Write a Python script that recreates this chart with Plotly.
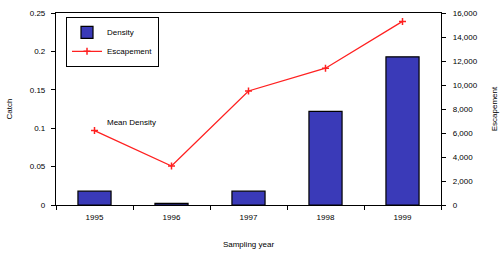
import plotly.graph_objects as go

years = ["1995", "1996", "1997", "1998", "1999"]
density = [0.018, 0.002, 0.018, 0.122, 0.193]
escapement = [6200, 3250, 9500, 11400, 15300]

left_ticks = [0, 0.05, 0.1, 0.15, 0.2, 0.25]
left_labels = ["0", "0.05", "0.1", "0.15", "0.2", "0.25"]
right_ticks = [0, 2000, 4000, 6000, 8000, 10000, 12000, 14000, 16000]
right_labels = ["0", "2,000", "4,000", "6,000", "8,000", "10,000", "12,000", "14,000", "16,000"]

fig = go.Figure()
fig.add_trace(go.Bar(x=years, y=density, name="Density", width=0.43,
                     marker=dict(color="#3a3ab8", line=dict(color="black", width=1.2))))
fig.add_trace(go.Scatter(x=years, y=escapement, name="Escapement", yaxis="y2",
                         mode="lines+markers", line=dict(color="#ff2020", width=1.3),
                         marker=dict(symbol="cross-thin", size=5, line=dict(color="#ff2020", width=1.5))))

axis_font = dict(family="Liberation Sans, Arial", size=8, color="black")
fig.update_layout(
    width=503, height=253,
    margin=dict(l=56, r=62, t=13, b=48, autoexpand=False),
    plot_bgcolor="white", paper_bgcolor="white",
    font=axis_font,
    showlegend=True,
    legend=dict(x=0.026, y=0.98, xanchor="left", yanchor="top",
                bordercolor="black", borderwidth=1, bgcolor="white",
                font=dict(size=8), itemwidth=30, tracegroupgap=0),
    xaxis=dict(type="category", showline=True, linecolor="black", linewidth=1.2, mirror=True,
               ticks="outside", tickson="boundaries", ticklen=4, tickcolor="black",
               ticklabelstandoff=4,
               title=dict(text="Sampling year", font=dict(size=8), standoff=20),
               showgrid=False, automargin=False),
    yaxis=dict(range=[0, 0.25], tickvals=left_ticks, ticktext=left_labels,
               showline=True, linecolor="black", linewidth=1.2, ticks="outside", ticklen=4,
               tickcolor="black", showgrid=False, zeroline=False, automargin=False,
               ticklabelstandoff=4,
               title=dict(text="Catch", font=dict(size=8), standoff=15)),
    yaxis2=dict(range=[0, 16000], tickvals=right_ticks, ticktext=right_labels,
                overlaying="y", side="right", showline=True, linecolor="black", linewidth=1.2,
                ticks="outside", ticklen=4, tickcolor="black", showgrid=False, zeroline=False,
                automargin=False, ticklabelstandoff=5,
                title=dict(text="Escapement", font=dict(size=8), standoff=14)),
    annotations=[dict(text="Mean Density", x=0.14, y=0.107, xref="x", yref="y",
                      xanchor="left", yanchor="middle", showarrow=False, font=dict(size=8))],
    bargap=0.57,
)
fig.write_html("out.html", config={"displayModeBar": False},
               post_script="document.body.style.margin='0';")
